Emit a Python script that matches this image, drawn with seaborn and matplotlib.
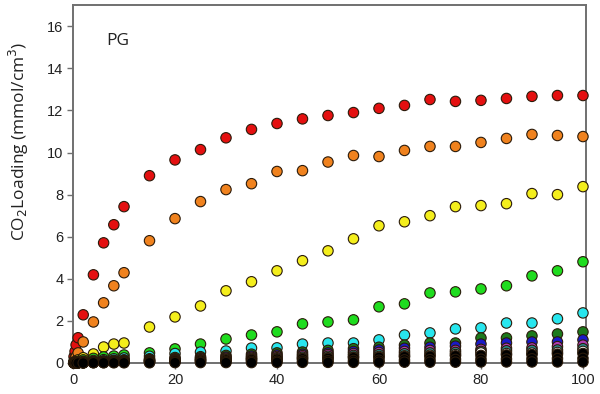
import matplotlib
matplotlib.use("Agg")
import matplotlib.pyplot as plt
import seaborn as sns
import pandas as pd

pressure = [0.2, 0.4, 0.6, 1, 2, 4, 6, 8, 10, 15, 20, 25, 30, 35, 40, 45, 50,
            55, 60, 65, 70, 75, 80, 85, 90, 95, 100]

red = [0.3, 0.55, 0.86, 1.2, 2.29, 4.19, 5.71, 6.57, 7.43, 8.9, 9.65, 10.14, 10.7,
       11.1, 11.38, 11.6, 11.76, 11.9, 12.1, 12.24, 12.52, 12.43, 12.48, 12.57,
       12.67, 12.71, 12.71]
orange = [0.1, 0.2, 0.3, 0.48, 1.0, 1.95, 2.86, 3.67, 4.29, 5.81, 6.86, 7.67, 8.24,
          8.52, 9.1, 9.14, 9.55, 9.86, 9.81, 10.1, 10.29, 10.29, 10.48, 10.67,
          10.86, 10.81, 10.76]
yellow = [0.03, 0.06, 0.1, 0.15, 0.25, 0.43, 0.76, 0.9, 0.95, 1.71, 2.19, 2.71,
          3.43, 3.86, 4.38, 4.86, 5.33, 5.9, 6.52, 6.71, 7.0, 7.43, 7.48, 7.57,
          8.05, 8.0, 8.38]
lime = [0.02, 0.03, 0.05, 0.08, 0.15, 0.22, 0.29, 0.33, 0.38, 0.48, 0.67, 0.9,
        1.14, 1.33, 1.48, 1.86, 1.95, 2.05, 2.67, 2.81, 3.33, 3.38, 3.52, 3.67,
        4.14, 4.38, 4.81]
cyan = [0.01, 0.02, 0.03, 0.05, 0.08, 0.12, 0.16, 0.2, 0.24, 0.32, 0.45, 0.52,
        0.57, 0.71, 0.72, 0.9, 0.95, 0.95, 1.1, 1.33, 1.43, 1.62, 1.67, 1.9, 1.9,
        2.1, 2.38]
darkgreen = [0.01, 0.01, 0.02, 0.03, 0.05, 0.08, 0.1, 0.13, 0.15, 0.2, 0.26, 0.3,
             0.36, 0.42, 0.48, 0.52, 0.6, 0.68, 0.75, 0.85, 0.95, 0.95, 1.19,
             1.19, 1.29, 1.38, 1.48]
blue = [0.01, 0.01, 0.02, 0.02, 0.04, 0.06, 0.08, 0.1, 0.12, 0.16, 0.2, 0.24,
        0.28, 0.33, 0.38, 0.42, 0.48, 0.55, 0.62, 0.7, 0.75, 0.8, 0.9, 0.95, 1.0,
        1.0, 1.1]
magenta = [0.01, 0.01, 0.01, 0.02, 0.03, 0.05, 0.06, 0.08, 0.1, 0.13, 0.16, 0.2,
           0.23, 0.27, 0.31, 0.35, 0.4, 0.45, 0.5, 0.55, 0.6, 0.6, 0.65, 0.7,
           0.72, 0.78, 0.85]
teal = [0.0, 0.01, 0.01, 0.01, 0.02, 0.04, 0.05, 0.06, 0.08, 0.1, 0.13, 0.16,
        0.19, 0.22, 0.25, 0.28, 0.32, 0.36, 0.4, 0.44, 0.48, 0.5, 0.55, 0.58,
        0.6, 0.62, 0.68]
white = [0.0, 0.0, 0.01, 0.01, 0.02, 0.03, 0.04, 0.05, 0.06, 0.08, 0.1, 0.12,
         0.15, 0.17, 0.2, 0.22, 0.25, 0.28, 0.31, 0.34, 0.37, 0.4, 0.48, 0.45,
         0.47, 0.5, 0.55]
black1 = [0.0, 0.0, 0.01, 0.01, 0.02, 0.03, 0.04, 0.05, 0.06, 0.08, 0.1, 0.12,
          0.14, 0.16, 0.18, 0.2, 0.22, 0.25, 0.27, 0.3, 0.32, 0.34, 0.36, 0.38,
          0.4, 0.42, 0.45]
black2 = [0.0, 0.0, 0.0, 0.01, 0.01, 0.02, 0.02, 0.03, 0.03, 0.04, 0.05, 0.06,
          0.07, 0.08, 0.09, 0.1, 0.11, 0.12, 0.13, 0.15, 0.16, 0.17, 0.18, 0.19,
          0.2, 0.21, 0.22]
black3 = [0.0, 0.0, 0.0, 0.0, 0.0, 0.01, 0.01, 0.01, 0.01, 0.01, 0.02, 0.02,
          0.02, 0.02, 0.03, 0.03, 0.03, 0.03, 0.04, 0.04, 0.04, 0.04, 0.05, 0.05,
          0.05, 0.05, 0.05]

series = {
    "red": red, "orange": orange, "yellow": yellow, "lime": lime, "cyan": cyan,
    "darkgreen": darkgreen, "blue": blue, "magenta": magenta, "teal": teal,
    "white": white, "black1": black1, "black2": black2, "black3": black3,
}
palette = {
    "red": "#e41010", "orange": "#f0821e", "yellow": "#f4ee1c", "lime": "#1fdc1f",
    "cyan": "#28e6ee", "darkgreen": "#1c7a1c", "blue": "#1a1ac8",
    "magenta": "#b03cb0", "teal": "#2a8c8c", "white": "#ffffff",
    "black1": "#000000", "black2": "#000000", "black3": "#000000",
}

rows = []
for name, vals in series.items():
    for p, v in zip(pressure, vals):
        rows.append({"P": p, "L": v, "s": name})
df = pd.DataFrame(rows)

sns.set_theme(style="white")
plt.rcParams["font.family"] = ["Liberation Sans", "DejaVu Sans"]

fig = plt.figure(figsize=(6, 3.94), dpi=100)
ax = fig.add_axes([0.1217, 0.0787, 0.855, 0.908])

sns.scatterplot(data=df, x="P", y="L", hue="s", palette=palette, s=56,
                edgecolor="#2a1a0a", linewidth=0.8, legend=False, ax=ax,
                clip_on=False, zorder=3)

ax.set_xlim(0, 100.6)
ax.set_ylim(0, 17)
ax.set_xticks([0, 20, 40, 60, 80, 100])
ax.set_yticks([0, 2, 4, 6, 8, 10, 12, 14, 16])
ax.set_xlabel("")
ax.set_ylabel(r"CO$_2$Loading (mmol/cm$^3$)", fontsize=12.5, family="Open Sans",
              color="#222222")
ax.yaxis.set_label_coords(-0.082, 0.62)
for sp in ax.spines.values():
    sp.set_color("#707070")
    sp.set_linewidth(1.4)
ax.tick_params(axis="both", direction="out", length=4, width=1, color="#707070",
               labelsize=10.5, labelcolor="#222222", pad=3, left=True, bottom=True)
ax.text(6.5, 15.3, "PG", fontsize=12.5, family="Open Sans", color="#222222",
        va="center", ha="left")

fig.savefig("out.png", dpi=100)
